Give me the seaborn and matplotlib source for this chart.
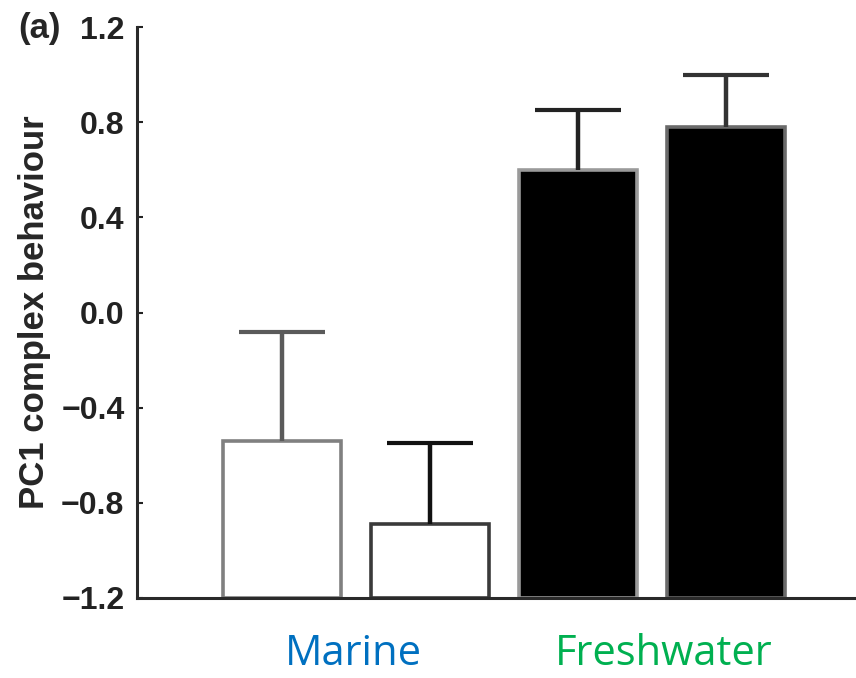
import matplotlib
matplotlib.use("Agg")
import matplotlib.pyplot as plt
import numpy as np
import pandas as pd
import seaborn as sns

# values
bars = ["M1", "M2", "F1", "F2"]
means = [-0.54, -0.89, 0.60, 0.78]
upper = [-0.08, -0.55, 0.85, 1.00]
habitat = ["Marine", "Freshwater"]
ticks = [-1.2, -0.8, -0.4, 0.0, 0.4, 0.8, 1.2]

face = ["white", "white", "black", "black"]
edge = ["#808080", "#3a3a3a", "#9a9a9a", "#6a6a6a"]
err_col = ["#5a5a5a", "#111111", "#222222", "#333333"]
base = -1.2

df = pd.DataFrame({"bar": bars, "mean": means})

sns.set_theme(style="white")
plt.rcParams["font.family"] = ["Liberation Sans", "DejaVu Sans"]

fig = plt.figure(figsize=(8.56, 6.78), dpi=100)
ax = fig.add_axes([0.160, 0.118, 0.840, 0.842])

sns.barplot(data=df, x="bar", y="mean", hue="bar", palette=face, legend=False,
            width=0.80, linewidth=2.6, errorbar=None, ax=ax)

# bars rise from the axis floor, not from zero
for p, m, ec in zip(ax.patches, means, edge):
    p.set_y(base)
    p.set_height(m - base)
    p.set_edgecolor(ec)

for i, (m, u, c) in enumerate(zip(means, upper, err_col)):
    eb = ax.errorbar(i, m, yerr=[[0], [u - m]], fmt="none", ecolor=c,
                     elinewidth=3.2, capsize=31, capthick=3.0, zorder=1)
    eb[1][0].set_visible(False)  # only the upper cap

ax.set_xlim(-0.98, 3.88)
ax.set_ylim(-1.2, 1.2)
ax.set_yticks(ticks)
ax.set_yticklabels([f"{t:.1f}".replace("-", "\u2212") for t in ticks],
                   fontsize=23, fontweight="bold")
ax.set_xticks([])
ax.set_xlabel("")
ax.set_ylabel("PC1 complex behaviour", fontsize=25, fontweight="bold", labelpad=7)
ax.tick_params(axis="y", direction="in", length=4, width=1.5, pad=9, left=True, colors="#222222")

for s in ["top", "right"]:
    ax.spines[s].set_visible(False)
for s in ["left", "bottom"]:
    ax.spines[s].set_color("#2a2a2a")
    ax.spines[s].set_linewidth(2.2)

xt = ax.get_xaxis_transform()
ax.text(0.486, -0.118, habitat[0], transform=xt, ha="center", va="baseline",
        fontsize=30, color="#0070C0", family=["Open Sans", "DejaVu Sans"])
ax.text(2.58, -0.118, habitat[1], transform=xt, ha="center", va="baseline",
        fontsize=30, color="#00B050", family=["Open Sans", "DejaVu Sans"])

fig.text(0.046, 0.958, "(a)", fontsize=25, fontweight="bold", ha="center", va="center")

fig.savefig("out.png", dpi=100)
